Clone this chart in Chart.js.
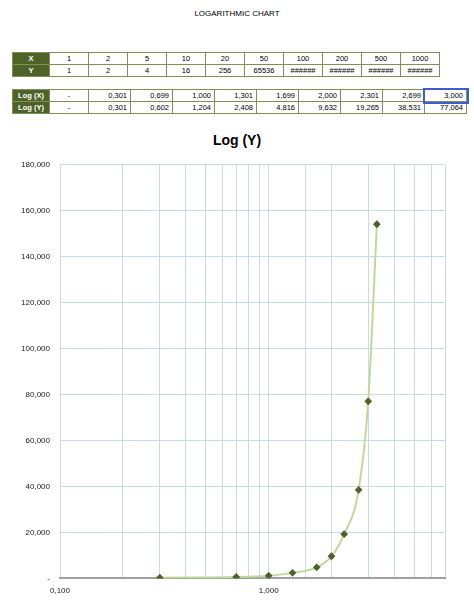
<!DOCTYPE html>
<html><head><meta charset="utf-8">
<script src="https://cdn.jsdelivr.net/npm/chart.js@4"></script>
<style>
body{margin:0;background:#fff;font-family:"Liberation Sans",Arial,sans-serif;width:474px;height:606px;position:relative;overflow:hidden;color:#000}
#top{position:absolute;top:9px;left:0;width:474px;text-align:center;font-size:8px;color:#000}
table{position:absolute;left:12px;border-collapse:collapse;font-size:7.5px}
td{border:1px solid #7f8f55;height:11px;width:38px;text-align:center;padding:0;color:#000}
td.h{background:#4f6228;color:#fff;font-weight:bold;width:36px}
td.r{text-align:right;padding-right:3px}
#t1{top:52px}#t2{top:89px}
#ttl{position:absolute;top:132px;left:0;width:474px;text-align:center;font-weight:bold;font-size:14px;color:#000}
#wrap{position:absolute;left:0;top:150px;width:474px;height:456px}
</style></head><body>
<div id="top">LOGARITHMIC CHART</div>
<table id="t1"></table>
<table id="t2"></table>
<div id="ttl">Log (Y)</div>
<div id="wrap"><canvas id="c"></canvas></div>
<script>
const xRow = ['1','2','5','10','20','50','100','200','500','1000'];
const yRow = ['1','2','4','16','256','65536','######','######','######','######'];
const logXRow = ['-','0,301','0,699','1,000','1,301','1,699','2,000','2,301','2,699','3,000'];
const logYRow = ['-','0,301','0,602','1,204','2,408','4,816','9,632','19,265','38,531','77,064'];

const xValues = [0.301, 0.699, 1.000, 1.301, 1.699, 2.000, 2.301, 2.699, 3.000, 3.301];
const yValues = [301, 602, 1204, 2408, 4816, 9632, 19265, 38531, 77064, 154128];

function fillTable(id, rows, alignRight) {
  const t = document.getElementById(id);
  rows.forEach(([head, vals]) => {
    const tr = document.createElement('tr');
    tr.innerHTML = '<td class="h">' + head + '</td>' +
      vals.map((v, i) => '<td class="' + (alignRight(v, i) ? 'r' : '') + '">' + v + '</td>').join('');
    t.appendChild(tr);
  });
}
fillTable('t1', [['X', xRow], ['Y', yRow]], () => false);
fillTable('t2', [['Log (X)', logXRow], ['Log (Y)', logYRow]], v => v !== '-');
document.querySelector('#t2 tr td:last-child').style.outline = '2px solid #3a5fcd';

const fmt = v => v === 0 ? '-' : v.toLocaleString('en-US', {minimumFractionDigits: 0});

new Chart(document.getElementById('c'), {
  type: 'scatter',
  data: {
    datasets: [{
      data: xValues.map((x, i) => ({x, y: yValues[i]})),
      showLine: true,
      borderColor: '#c4d79b',
      borderWidth: 2,
      cubicInterpolationMode: 'monotone',
      pointStyle: 'rectRot',
      pointRadius: 2.5,
      pointBackgroundColor: '#4f6228',
      pointBorderColor: '#4f6228'
    }]
  },
  options: {
    responsive: true,
    maintainAspectRatio: false,
    animation: false,
    layout: {padding: {left: 8, right: 29, top: 12, bottom: 2}},
    plugins: {legend: {display: false}, tooltip: {enabled: false}},
    scales: {
      x: {
        type: 'logarithmic', min: 0.1, max: 7,
        grid: {color: '#c5dde9', drawTicks: false},
        border: {color: '#a0a0a0', width: 2},
        ticks: {
          color: '#222', font: {size: 8}, padding: 8, maxRotation: 0, autoSkip: false,
          callback: v => (v === 0.1 ? '0,100' : v === 1 ? '1,000' : '')
        }
      },
      y: {
        min: 0, max: 180000,
        grid: {color: '#c5dde9', drawTicks: false},
        border: {display: false},
        ticks: {
          stepSize: 20000, color: '#222', font: {size: 8}, padding: 10,
          callback: fmt
        },
        afterFit: s => { s.width = 52; }
      }
    }
  }
});
</script>
</body></html>
